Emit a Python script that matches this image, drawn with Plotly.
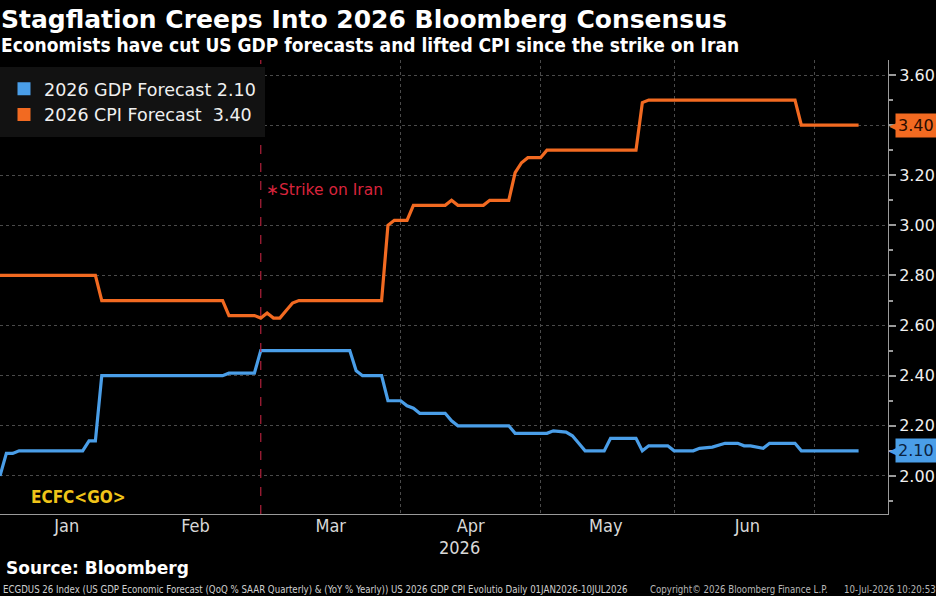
import plotly.graph_objects as go

# ---------------- data ----------------
gdp_dates = ["2026-01-02", "2026-01-05", "2026-01-06", "2026-01-07", "2026-01-21", "2026-01-22",
             "2026-01-23", "2026-01-26", "2026-02-20", "2026-02-23", "2026-02-27", "2026-03-02",
             "2026-03-20", "2026-03-23", "2026-03-24", "2026-03-27", "2026-03-30", "2026-04-01",
             "2026-04-02", "2026-04-03", "2026-04-06", "2026-04-10", "2026-04-13", "2026-04-14",
             "2026-04-24", "2026-04-27", "2026-05-04", "2026-05-05", "2026-05-07", "2026-05-08",
             "2026-05-11", "2026-05-12", "2026-05-15", "2026-05-18", "2026-05-22", "2026-05-25",
             "2026-05-26", "2026-05-29", "2026-06-01", "2026-06-04", "2026-06-05", "2026-06-09",
             "2026-06-11", "2026-06-15", "2026-06-16", "2026-06-17", "2026-06-19", "2026-06-22",
             "2026-06-26", "2026-06-29", "2026-07-10"]
gdp_values = [2.00, 2.09, 2.09, 2.10, 2.10, 2.14, 2.14, 2.40, 2.40, 2.41, 2.41, 2.50,
              2.50, 2.42, 2.40, 2.40, 2.30, 2.30, 2.28, 2.27, 2.25, 2.25, 2.22, 2.20,
              2.20, 2.17, 2.17, 2.18, 2.175, 2.16, 2.13, 2.10, 2.10, 2.15, 2.15, 2.10,
              2.12, 2.12, 2.10, 2.10, 2.11, 2.115, 2.13, 2.13, 2.12, 2.12, 2.11, 2.13,
              2.13, 2.10, 2.10]

cpi_dates = ["2026-01-02", "2026-01-23", "2026-01-26", "2026-02-20", "2026-02-23", "2026-02-27",
             "2026-03-02", "2026-03-03", "2026-03-04", "2026-03-05", "2026-03-06", "2026-03-09",
             "2026-03-10", "2026-03-27", "2026-03-30", "2026-03-31", "2026-04-02", "2026-04-03",
             "2026-04-10", "2026-04-13", "2026-04-14", "2026-04-20", "2026-04-21", "2026-04-24",
             "2026-04-27", "2026-04-28", "2026-04-29", "2026-05-01", "2026-05-04", "2026-05-22",
             "2026-05-25", "2026-05-26", "2026-06-26", "2026-06-29", "2026-07-10"]
cpi_values = [2.80, 2.80, 2.70, 2.70, 2.64, 2.64, 2.63, 2.65, 2.63, 2.63, 2.66, 2.69,
              2.70, 2.70, 3.00, 3.02, 3.02, 3.08, 3.08, 3.10, 3.08, 3.08, 3.10, 3.10,
              3.21, 3.25, 3.27, 3.27, 3.30, 3.30, 3.49, 3.50, 3.50, 3.40, 3.40]

month_labels = ["Jan", "Feb", "Mar", "Apr", "May", "Jun"]
month_label_dates = ["2026-01-16 12:00", "2026-02-13 18:00", "2026-03-17", "2026-04-16",
                     "2026-05-15 06:00", "2026-06-16 12:00"]
month_starts = ["2026-02-01", "2026-03-01", "2026-04-01", "2026-05-01", "2026-06-01", "2026-07-01"]
year_label = "2026"

strike_date = "2026-03-02"
strike_label = "\u2217Strike on Iran"
y_ticks = [2.00, 2.20, 2.40, 2.60, 2.80, 3.00, 3.20, 3.40, 3.60]

GDP_COLOR = "#4a9ee8"
CPI_COLOR = "#f26a21"
COND = "Liberation Sans Narrow, DejaVu Sans Condensed, Liberation Sans, sans-serif"
BOLD = "DejaVu Sans, Verdana, sans-serif"

PLOT_TOP, PLOT_H = 60, 454


def py(pix):
    """paper y for a pixel row (for titles/footers outside the plot)"""
    return 1.0 - (pix - PLOT_TOP) / PLOT_H


fig = go.Figure()

fig.add_trace(go.Scatter(x=cpi_dates, y=cpi_values, mode="lines",
                         line=dict(color=CPI_COLOR, width=3.2), showlegend=False,
                         hoverinfo="skip"))
fig.add_trace(go.Scatter(x=gdp_dates, y=gdp_values, mode="lines",
                         line=dict(color=GDP_COLOR, width=3.2), showlegend=False,
                         hoverinfo="skip"))

# legend entries (square swatches)
fig.add_trace(go.Scatter(x=[None], y=[None], mode="markers",
                         marker=dict(symbol="square", size=13, color=GDP_COLOR),
                         name=f"2026 GDP Forecast {gdp_values[-1]:.2f}"))
fig.add_trace(go.Scatter(x=[None], y=[None], mode="markers",
                         marker=dict(symbol="square", size=13, color=CPI_COLOR),
                         name=f"2026 CPI Forecast  {cpi_values[-1]:.2f}"))

# strike line
fig.add_shape(type="line", xref="x", yref="paper", x0=strike_date, x1=strike_date,
              y0=0, y1=1, line=dict(color="#b0203a", width=1.2, dash="dash"))
fig.add_annotation(x=strike_date, y=3.14, xref="x", yref="y", text=strike_label,
                   showarrow=False, xanchor="left", xshift=3,
                   font=dict(family="DejaVu Sans", size=15.5, color="#d8243c"))

# value tags on right axis
for val, col, tcol in [(cpi_values[-1], CPI_COLOR, "#2a0c00"), (gdp_values[-1], GDP_COLOR, "#0a2240")]:
    fig.add_annotation(x=1, y=val, xref="paper", yref="y", text="\u25C0", showarrow=False,
                       xanchor="left", xshift=-1, font=dict(size=13, color=col, family="DejaVu Sans"))
    fig.add_annotation(x=1, y=val, xref="paper", yref="y", text=f"{val:.2f}", showarrow=False,
                       xanchor="left", xshift=7, bgcolor=col, borderpad=2,
                       font=dict(size=16, color=tcol, family="DejaVu Sans"))

# ECFC<GO>
fig.add_annotation(x=0.033, y=py(497), xref="paper", yref="paper", text="<b>ECFC&lt;GO&gt;</b>",
                   showarrow=False, xanchor="left", yanchor="middle",
                   font=dict(family="DejaVu Sans Condensed, DejaVu Sans", size=17, color="#f0c419"))

# year label
fig.add_annotation(x=0.517, y=py(547), xref="paper", yref="paper", text=year_label, showarrow=False,
                   yanchor="middle",
                   font=dict(family=COND, size=18, color="#d8d8d8"))

# titles
fig.add_annotation(x=-0.001, y=py(19), xref="paper", yref="paper",
                   text="<b>Stagflation Creeps Into 2026 Bloomberg Consensus</b>", showarrow=False,
                   xanchor="left", yanchor="middle",
                   font=dict(family=BOLD, size=25, color="white"))
fig.add_annotation(x=-0.001, y=py(45), xref="paper", yref="paper",
                   text="<b>Economists have cut US GDP forecasts and lifted CPI since the strike on Iran</b>",
                   showarrow=False, xanchor="left", yanchor="middle",
                   font=dict(family="DejaVu Sans Condensed, DejaVu Sans", size=19, color="white"))

# footer
fig.add_annotation(x=0.005, y=py(568), xref="paper", yref="paper",
                   text="<b>Source: Bloomberg</b>", showarrow=False, xanchor="left", yanchor="middle",
                   font=dict(family=BOLD, size=17, color="white"))
fig.add_annotation(x=0.001, y=py(589), xref="paper", yref="paper",
                   text="ECGDUS 26 Index (US GDP Economic Forecast (QoQ % SAAR Quarterly) &amp; (YoY % Yearly)) "
                        "US 2026 GDP CPI Evolutio Daily 01JAN2026-10JUL2026",
                   showarrow=False, xanchor="left", yanchor="middle",
                   font=dict(family=COND, size=9.6, color="#d0d0d0"))
fig.add_annotation(x=648 / 888, y=py(589), xref="paper", yref="paper",
                   text="Copyright\u00a9 2026 Bloomberg Finance L.P.", showarrow=False,
                   xanchor="left", yanchor="middle",
                   font=dict(family=COND, size=9.6, color="#b8b8b8"))
fig.add_annotation(x=842 / 888, y=py(589), xref="paper", yref="paper",
                   text="10-Jul-2026 10:20:53", showarrow=False,
                   xanchor="left", yanchor="middle",
                   font=dict(family=COND, size=9.6, color="#b8b8b8"))

fig.update_layout(
    width=936, height=596,
    margin=dict(l=0, r=48, t=PLOT_TOP, b=596 - PLOT_TOP - PLOT_H),
    paper_bgcolor="black", plot_bgcolor="black",
    showlegend=True,
    legend=dict(x=0.0, y=0.985, xanchor="left", yanchor="top",
                bgcolor="#121212", borderwidth=4, bordercolor="#121212",
                font=dict(family="DejaVu Sans", size=17.5, color="#f0f0f0"),
                tracegroupgap=0, itemwidth=30),
    xaxis=dict(
        type="date",
        range=["2026-01-02", "2026-07-16 15:00"],
        rangebreaks=[dict(bounds=["sat", "mon"])],
        tickmode="array", tickvals=month_label_dates, ticktext=month_labels,
        ticklabelstandoff=-5,
        showgrid=False,
        minor=dict(tickmode="array", tickvals=month_starts, showgrid=True,
                   gridcolor="#4a4a4a", griddash="dot", gridwidth=1, ticks=""),
        showline=True, linecolor="#9a9a9a", linewidth=1,
        ticks="", zeroline=False,
        tickfont=dict(family=COND, size=18, color="#d8d8d8"),
    ),
    yaxis=dict(
        side="right", range=[1.848, 3.66],
        tickvals=y_ticks, ticktext=[f"{v:.2f}" for v in y_ticks],
        showgrid=True, gridcolor="#4a4a4a", griddash="dot", gridwidth=1,
        showline=True, linecolor="#9a9a9a", linewidth=1,
        ticks="outside", ticklen=7, tickwidth=2, tickcolor="#9a9a9a",
        minor=dict(ticks="outside", ticklen=4, dtick=0.1, tick0=2.0, tickcolor="#9a9a9a", showgrid=False),
        zeroline=False,
        tickfont=dict(family="DejaVu Sans", size=16, color="#f0f0f0"),
    ),
)

fig.write_html("out.html")
